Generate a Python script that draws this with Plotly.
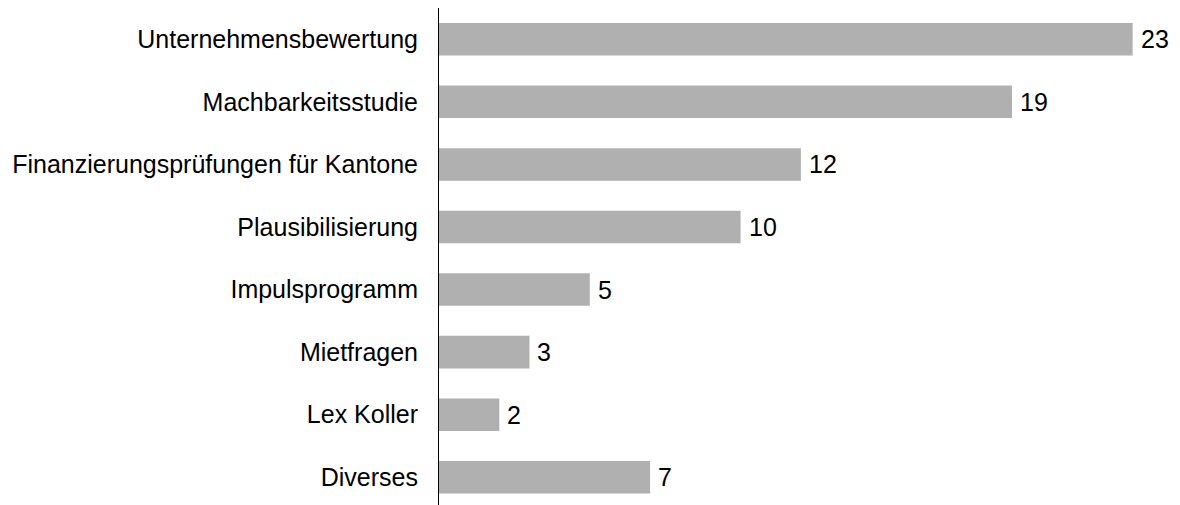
import plotly.graph_objects as go

# Anzahl Mandate nach Kategorie
categories = [
    "Unternehmensbewertung",
    "Machbarkeitsstudie",
    "Finanzierungsprüfungen für Kantone",
    "Plausibilisierung",
    "Impulsprogramm",
    "Mietfragen",
    "Lex Koller",
    "Diverses",
]
values = [23, 19, 12, 10, 5, 3, 2, 7]

FONT = "Liberation Sans, Arial, sans-serif"
BAR_COLOR = "#b0b0b0"

fig = go.Figure(
    go.Bar(
        x=values,
        y=categories,
        orientation="h",
        marker=dict(color=BAR_COLOR, line=dict(width=0)),
        width=0.52,
        hoverinfo="skip",
    )
)

# value labels placed just right of each bar end
for cat, val in zip(categories, values):
    fig.add_annotation(
        x=val,
        y=cat,
        text=str(val),
        showarrow=False,
        xanchor="left",
        yanchor="middle",
        xshift=6,
        font=dict(family=FONT, size=25, color="#000000"),
    )

fig.update_layout(
    width=1180,
    height=505,
    margin=dict(l=439, r=0, t=8, b=0),
    paper_bgcolor="white",
    plot_bgcolor="white",
    showlegend=False,
    font=dict(family=FONT, size=25, color="#000000"),
)

fig.update_xaxes(
    range=[0, 24.57],
    visible=False,
    showgrid=False,
    zeroline=False,
)

fig.update_yaxes(
    type="category",
    categoryorder="array",
    categoryarray=categories,
    range=[7.443, -0.5],
    showgrid=False,
    zeroline=False,
    showline=True,
    linecolor="#000000",
    linewidth=1,
    ticks="",
    ticklabelstandoff=15,
    tickfont=dict(family=FONT, size=25, color="#000000"),
)

fig.write_html("out.html")
